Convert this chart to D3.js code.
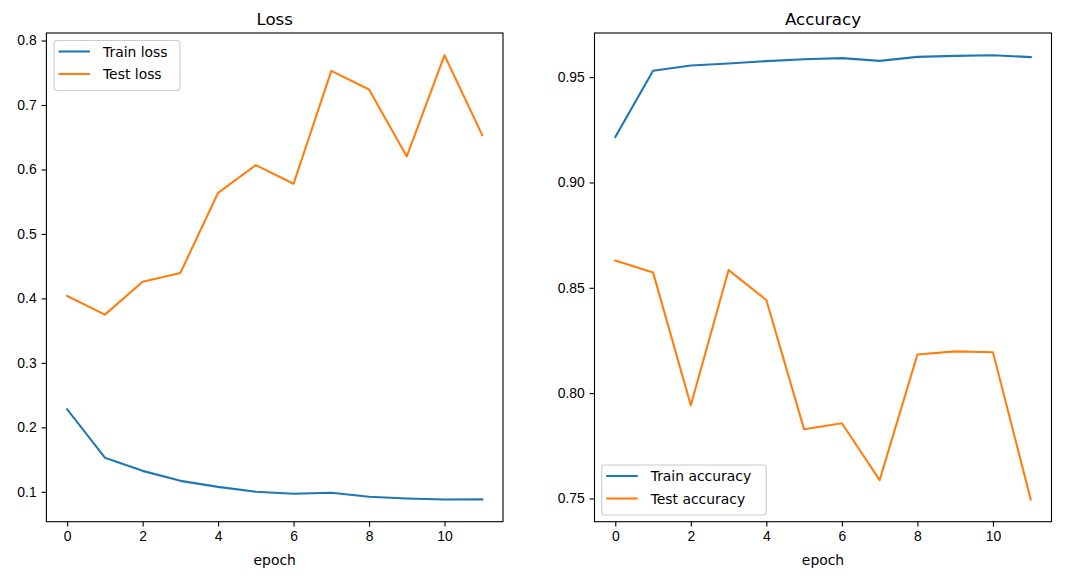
<!DOCTYPE html>
<html>
<head>
<meta charset="utf-8">
<script src="https://cdn.jsdelivr.net/npm/d3@7"></script>
<style>
  body { margin: 0; background: #fff; }
  svg { display: block; font-family: "DejaVu Sans", sans-serif; }
  .tick text { font-size: 13.9px; fill: #000; }
  .tick line { stroke: #000; stroke-width: 1.1; }
</style>
</head>
<body>
<div id="chart"></div>
<script>
// values
var epochs = [0, 1, 2, 3, 4, 5, 6, 7, 8, 9, 10, 11];
var trainLoss = [0.228, 0.153, 0.1325, 0.117, 0.1077, 0.100, 0.0969, 0.0985, 0.0923, 0.0897, 0.0881, 0.0882];
var testLoss = [0.4037, 0.3748, 0.4259, 0.4394, 0.5638, 0.6067, 0.5778, 0.7529, 0.724, 0.6202, 0.7772, 0.6532];
var trainAcc = [0.9216, 0.953, 0.9555, 0.9565, 0.9576, 0.9585, 0.959, 0.9577, 0.9596, 0.9601, 0.9604, 0.9595];
var testAcc = [0.8629, 0.8573, 0.7942, 0.8584, 0.8442, 0.7828, 0.7857, 0.7587, 0.8183, 0.8198, 0.8194, 0.7495];

var epochTicks = [0, 2, 4, 6, 8, 10];
var lossTicks = [0.1, 0.2, 0.3, 0.4, 0.5, 0.6, 0.7, 0.8];
var accTicks = [0.75, 0.80, 0.85, 0.90, 0.95];

var width = 1065, height = 579;
var blue = "#1f77b4", orange = "#ff7f0e";

var svg = d3.select("#chart").append("svg")
    .attr("width", width)
    .attr("height", height);

// matplotlib style 5% margin around the data
function padded(arr) {
    var e = d3.extent(arr), p = (e[1] - e[0]) * 0.05;
    return [e[0] - p, e[1] + p];
}

function drawPanel(opts) {
    var g = svg.append("g");
    var x = d3.scaleLinear().domain(padded(epochs)).range([opts.left, opts.right]);
    var y = d3.scaleLinear().domain(padded(opts.series[0].values.concat(opts.series[1].values)))
        .range([opts.bottom, opts.top]);

    var line = d3.line()
        .x(function(d, i) { return x(epochs[i]); })
        .y(function(d) { return y(d); });

    opts.series.forEach(function(s) {
        g.append("path")
            .datum(s.values)
            .attr("fill", "none")
            .attr("stroke", s.color)
            .attr("stroke-width", 2.1)
            .attr("stroke-linejoin", "round")
            .attr("stroke-linecap", "square")
            .attr("d", line);
    });

    // axes
    var xa = g.append("g")
        .attr("transform", "translate(0," + opts.bottom + ")")
        .call(d3.axisBottom(x).tickValues(epochTicks).tickSize(4.9).tickPadding(4.9).tickSizeOuter(0));
    xa.select(".domain").remove();
    xa.selectAll("text").attr("font-family", null);

    var ya = g.append("g")
        .attr("transform", "translate(" + opts.left + ",0)")
        .call(d3.axisLeft(y).tickValues(opts.ticks).tickFormat(d3.format(opts.fmt))
            .tickSize(4.9).tickPadding(4.9).tickSizeOuter(0));
    ya.select(".domain").remove();
    ya.selectAll("text").attr("font-family", null);

    // spines
    g.append("rect")
        .attr("x", opts.left)
        .attr("y", opts.top)
        .attr("width", opts.right - opts.left)
        .attr("height", opts.bottom - opts.top)
        .attr("fill", "none")
        .attr("stroke", "#000")
        .attr("stroke-width", 1.1);

    // title and x label
    g.append("text")
        .attr("x", (opts.left + opts.right) / 2)
        .attr("y", opts.top - 8.5)
        .attr("text-anchor", "middle")
        .attr("font-size", 16.7)
        .text(opts.title);

    g.append("text")
        .attr("x", (opts.left + opts.right) / 2)
        .attr("y", 565)
        .attr("text-anchor", "middle")
        .attr("font-size", 13.9)
        .text("epoch");

    // legend
    var lg = g.append("g").attr("transform", "translate(" + opts.legend.x + "," + opts.legend.y + ")");
    lg.append("rect")
        .attr("width", opts.legend.w)
        .attr("height", 50)
        .attr("rx", 3)
        .attr("fill", "#fff")
        .attr("fill-opacity", 0.8)
        .attr("stroke", "#cccccc")
        .attr("stroke-width", 1.1);
    opts.series.forEach(function(s, i) {
        var cy = 11 + i * 22.5;
        lg.append("line")
            .attr("x1", 4.5).attr("x2", 36)
            .attr("y1", cy).attr("y2", cy)
            .attr("stroke", s.color)
            .attr("stroke-width", 2.1);
        lg.append("text")
            .attr("x", 49)
            .attr("y", cy)
            .attr("dy", "0.36em")
            .attr("font-size", 13.9)
            .text(s.name);
    });
}

drawPanel({
    left: 46.4, right: 503, top: 33, bottom: 521.7,
    title: "Loss",
    ticks: lossTicks, fmt: ".1f",
    series: [
        { name: "Train loss", values: trainLoss, color: blue },
        { name: "Test loss", values: testLoss, color: orange }
    ],
    legend: { x: 54, y: 40.5, w: 126 }
});

drawPanel({
    left: 594.5, right: 1051.5, top: 33, bottom: 521.7,
    title: "Accuracy",
    ticks: accTicks, fmt: ".2f",
    series: [
        { name: "Train accuracy", values: trainAcc, color: blue },
        { name: "Test accuracy", values: testAcc, color: orange }
    ],
    legend: { x: 601.7, y: 465, w: 164.5 }
});
</script>
</body>
</html>
